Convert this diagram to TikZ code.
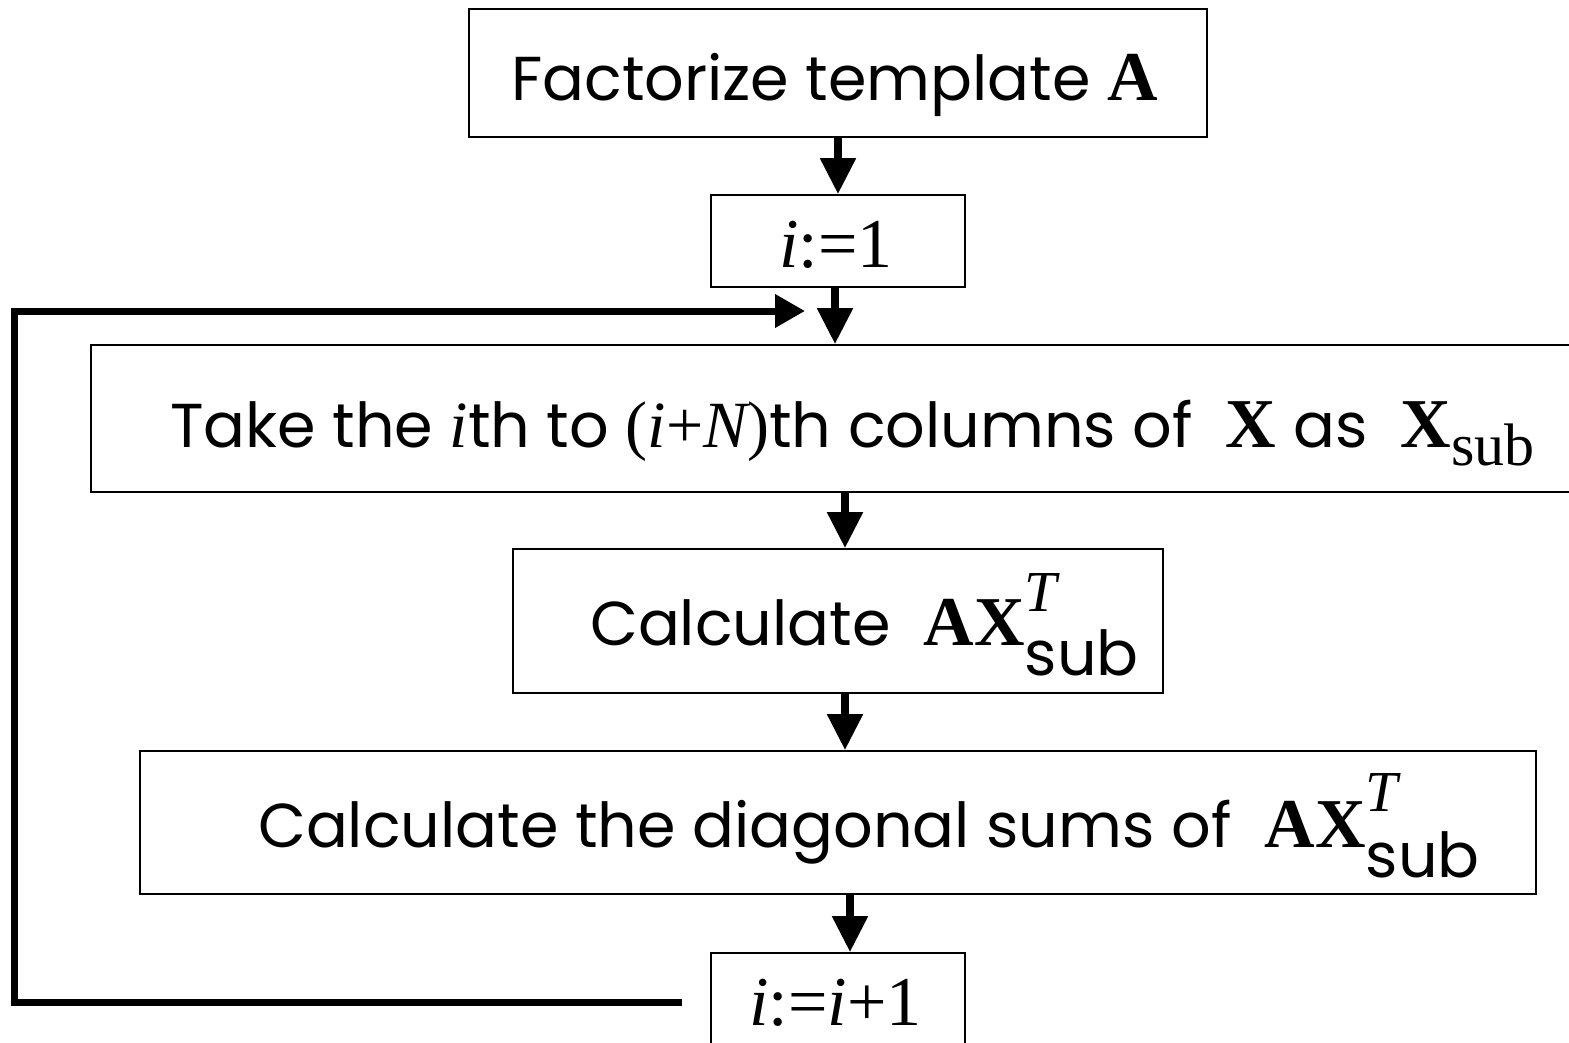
\documentclass[tikz,border=0pt]{standalone}
\usepackage{fontspec}
\usepackage{graphicx}
\setmainfont{Poppins}
\newfontfamily\tms{Liberation Serif}
\usetikzlibrary{arrows.meta}
\newcommand{\sz}{\fontsize{62}{70}\selectfont}
\newcommand{\ser}{\tms\fontsize{66}{70}\selectfont}
\newcommand{\serb}{\tms\bfseries\fontsize{70}{70}\selectfont}
\begin{document}
\begin{tikzpicture}[x=1pt,y=-1pt,
  box/.style={draw, line width=1.6pt, inner sep=0pt, rectangle},
  lbl/.style={anchor=base west, inner sep=0pt, font=\sz},
  flow/.style={line width=8pt, -{Triangle[width=34pt,length=36pt]}},
  back/.style={line width=7pt, line join=miter, -{Triangle[width=32pt,length=30pt]}}]
\useasboundingbox (0,0) rectangle (1569,1043);
% boxes
\node[box, minimum width=738pt, minimum height=128pt] (b1) at (838,73) {};
\node[box, minimum width=254pt, minimum height=92pt] (b2) at (838,241) {};
\node[box, minimum width=1489pt, minimum height=147pt] (b3) at (835.5,418.5) {};
\node[box, minimum width=650pt, minimum height=144pt] (b4) at (838,621) {};
\node[box, minimum width=1396pt, minimum height=143pt] (b5) at (838,822.5) {};
\node[box, minimum width=254pt, minimum height=102pt] (b6) at (838,1004) {};
% labels
\node[lbl] (t1) at (511,101) {Factorize template {\serb A}};
\node[lbl] (t2) at (779,268) {\tms\fontsize{70}{70}\selectfont\itshape i\upshape:=1};
\node[lbl] (t3) at (170,447) {Take the {\ser\itshape i}th to {\ser(\itshape i\upshape+\itshape N\upshape)}th columns of \ {\serb X} as \ {\serb X}\raisebox{-18pt}{\tms\fontsize{60}{60}\selectfont sub}};
\node[lbl] (t4) at (590,645) {Calculate \ {\serb AX}\rlap{\raisebox{34pt}{\tms\itshape\fontsize{58}{60}\selectfont T}}\raisebox{-30pt}{sub}};
\node[lbl] (t5) at (258,847) {Calculate the diagonal sums of \ {\serb AX}\rlap{\raisebox{36pt}{\tms\itshape\fontsize{58}{60}\selectfont T}}\raisebox{-30pt}{sub}};
\node[lbl] (t6) at (749,1025) {\tms\fontsize{70}{70}\selectfont\itshape i\upshape:=\itshape i\upshape+1};
% arrows
\draw[flow] (b1.south) -- (b2.north);
\draw[flow] ([xshift=-3pt]b2.south) -- ([xshift=-3pt]b2.south |- b3.north);
\draw[flow] ([xshift=7pt]b4.north |- b3.south) -- ([xshift=7pt]b4.north);
\draw[flow] ([xshift=7pt]b4.south) -- ([xshift=7pt]b4.south |- b5.north);
\draw[flow] ([xshift=12pt]b5.south) -- ([xshift=12pt]b6.north);
\coordinate (ls) at ([xshift=-28pt]b6.west |- 0,1002);
\coordinate (le) at (805,311);
\draw[back] (ls) -- (14,1002) -- (14,311) -- (le);
\end{tikzpicture}
\end{document}
